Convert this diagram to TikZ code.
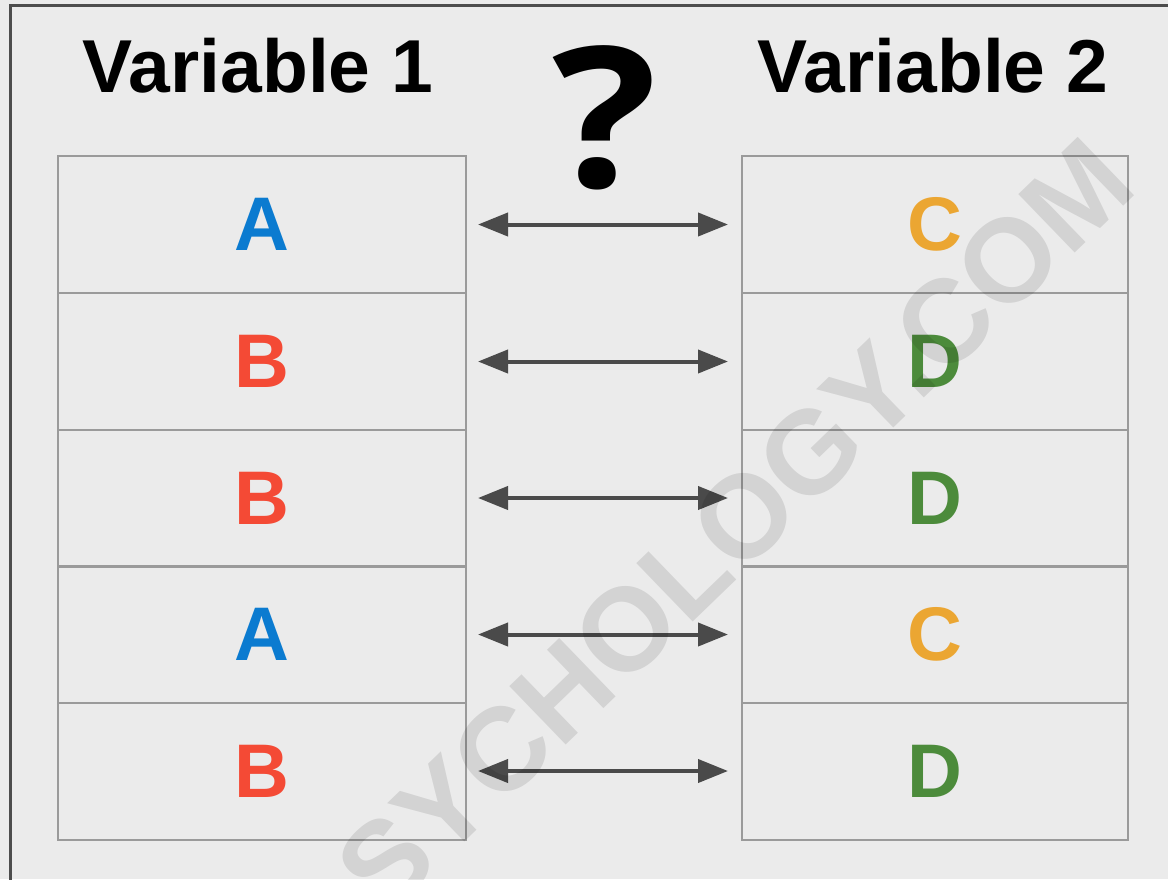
\documentclass[tikz,border=0pt]{standalone}
\usepackage{fontspec}
\setmainfont{Liberation Sans}
\newfontfamily\qfont{Open Sans}
\usetikzlibrary{arrows.meta}
\definecolor{bgray}{HTML}{EBEBEB}
\definecolor{frame}{HTML}{4D4D4D}
\definecolor{cellline}{HTML}{9A9A9A}
\definecolor{arrowgray}{HTML}{4A4A4A}
\definecolor{cA}{HTML}{0B7BD0}
\definecolor{cB}{HTML}{F44A35}
\definecolor{cC}{HTML}{EBA632}
\definecolor{cD}{HTML}{4C8B3B}
\tikzset{
  cell/.style={draw=cellline, line width=2pt, rectangle, inner sep=0pt,
    minimum height=137pt, font=\fontsize{76}{76}\selectfont\bfseries},
  leftcell/.style={cell, minimum width=408pt},
  rightcell/.style={cell, minimum width=386pt},
  title/.style={anchor=base, inner sep=0pt, font=\fontsize{75}{75}\selectfont\bfseries},
  link/.style={draw=arrowgray, line width=4pt,
    {Triangle[length=30pt,width=23pt]}-{Triangle[length=30pt,width=23pt]},
    shorten <=11pt, shorten >=13pt},
}
\begin{document}
\begin{tikzpicture}[x=1pt, y=-1pt]
\useasboundingbox (0,0) rectangle (1168,879);
\begin{scope}
\clip (0,0) rectangle (1168,879);
\fill[bgray] (0,0) rectangle (1168,879);
% outer frame, running off the right and bottom edges
\draw[frame, line width=3pt] (10,900) -- (10,5.5) -- (1200,5.5);

% headings
\node[title] (t1) at (258,92) {Variable 1};
\node[title] (t2) at (933,92) {Variable 2};
\node[anchor=base, inner sep=0pt, xscale=1.12,
  font=\fontsize{196}{196}\selectfont\qfont\bfseries] (q) at (605,187) {?};

% the two columns of cells
\foreach \i/\y/\a/\ca/\b/\cb in {1/224.5/A/cA/C/cC, 2/361.5/B/cB/D/cD, 3/498/B/cB/D/cD, 4/634.5/A/cA/C/cC, 5/771/B/cB/D/cD}{
  \node[leftcell, text=\ca] (l\i) at (262,\y) {\a};
  \node[rightcell, text=\cb] (r\i) at (935,\y) {\b};
  \draw[link] (l\i) -- (r\i);
}

% watermark
\node[rotate=44, fill opacity=0, text opacity=0.10, text=black, inner sep=0pt,
  font=\fontsize{118}{118}\selectfont\bfseries] (wm) at (735,525) {SYCHOLOGY.COM};
\end{scope}
\end{tikzpicture}
\end{document}
